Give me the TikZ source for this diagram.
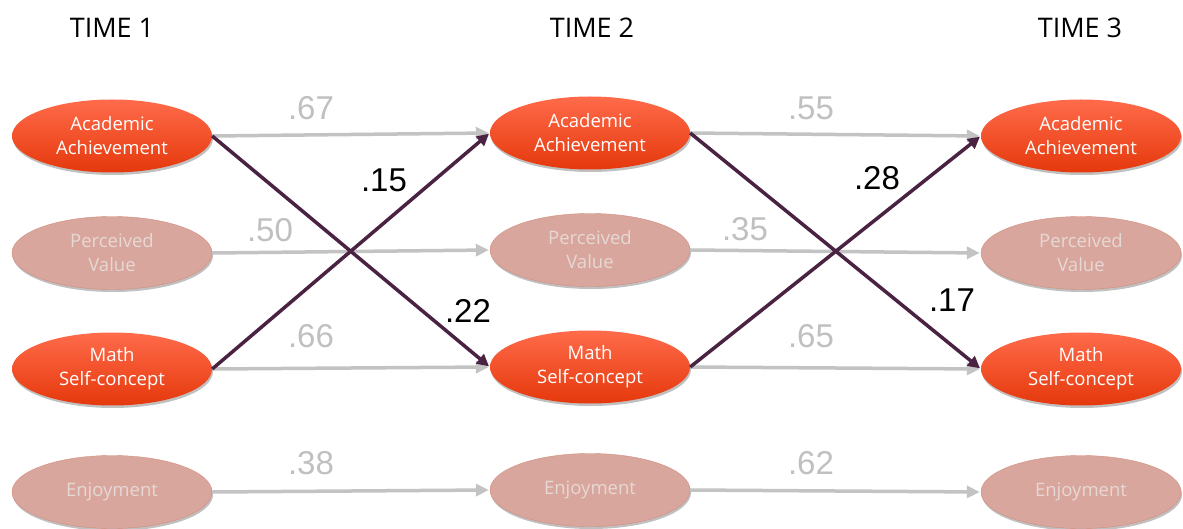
\documentclass[tikz,border=0pt]{standalone}
\usepackage{fontspec}
\setmainfont{Open Sans}
\newfontfamily\numfont{Liberation Sans}
\usetikzlibrary{shapes.geometric,shadows,arrows.meta}
\definecolor{hotTop}{HTML}{FF6B4A}
\definecolor{hotBot}{HTML}{E5380C}
\definecolor{fadeFill}{HTML}{D8A69C}
\definecolor{fadeDraw}{HTML}{D58B7C}
\definecolor{fadeText}{HTML}{E6D8D4}
\definecolor{grayLine}{HTML}{C3C3C3}
\definecolor{grayNum}{HTML}{C0C0C0}
\definecolor{purpleLine}{HTML}{4A2242}
\begin{document}
\begin{tikzpicture}[x=1pt,y=-1pt,
  latent/.style={ellipse,minimum width=200pt,minimum height=73pt,inner sep=0pt,
    align=center,font=\fontsize{18.5}{24}\selectfont,
    drop shadow={shadow xshift=1pt,shadow yshift=-2.5pt,opacity=0.35,fill=black!70}},
  hot/.style={latent,top color=hotTop,bottom color=hotBot,draw=none,text=white},
  faded/.style={latent,fill=fadeFill,draw=fadeDraw,line width=0.4pt,text=fadeText},
  grayarrow/.style={draw=grayLine,line width=3.5pt,-{Triangle[length=13pt,width=12pt]},shorten >=1pt},
  purplearrow/.style={draw=purpleLine,line width=3.5pt,-{Triangle[length=12pt,width=12pt]},shorten >=1pt},
  grayval/.style={font=\numfont\fontsize{33}{33}\selectfont,text=grayNum},
  blackval/.style={font=\numfont\fontsize{33}{33}\selectfont,text=black},
  title/.style={font=\fontsize{27}{27}\selectfont}]
\useasboundingbox (0,0) rectangle (1183,529);
\fill[white] (0,0) rectangle (1183,529);
% titles
\node[title] (t1) at (112,28) {TIME 1};
\node[title] (t2) at (592,28) {TIME 2};
\node[title] (t3) at (1080,28) {TIME 3};
% column 1
\node[hot] (a1) at (112,136) {Academic\\Achievement};
\node[faded] (p1) at (112,253) {Perceived\\Value};
\node[hot] (m1) at (112,369) {Math\\Self-concept};
\node[faded] (e1) at (112,492) {Enjoyment};
% column 2
\node[hot] (a2) at (590,133) {Academic\\Achievement};
\node[faded] (p2) at (590,250) {Perceived\\Value};
\node[hot] (m2) at (590,367) {Math\\Self-concept};
\node[faded] (e2) at (590,490) {Enjoyment};
% column 3
\node[hot] (a3) at (1081,136) {Academic\\Achievement};
\node[faded] (p3) at (1081,253) {Perceived\\Value};
\node[hot] (m3) at (1081,369) {Math\\Self-concept};
\node[faded] (e3) at (1081,492) {Enjoyment};
% gray stability paths
\draw[grayarrow] (a1.east) -- (a2.west);
\draw[grayarrow] (p1.east) -- (p2.west);
\draw[grayarrow] (m1.east) -- (m2.west);
\draw[grayarrow] (e1.east) -- (e2.west);
\draw[grayarrow] (a2.east) -- (a3.west);
\draw[grayarrow] (p2.east) -- (p3.west);
\draw[grayarrow] (m2.east) -- (m3.west);
\draw[grayarrow] (e2.east) -- (e3.west);
% purple cross paths
\draw[purplearrow] (a1.east) -- (m2.west);
\draw[purplearrow] (m1.east) -- (a2.west);
\draw[purplearrow] (a2.east) -- (m3.west);
\draw[purplearrow] (m2.east) -- (a3.west);
% values
\node[grayval] (v67) at (311,108) {.67};
\node[grayval] (v50) at (270,230) {.50};
\node[grayval] (v66) at (311,336) {.66};
\node[grayval] (v38) at (311,463) {.38};
\node[grayval] (v55) at (811,108) {.55};
\node[grayval] (v35) at (745,229) {.35};
\node[grayval] (v65) at (811,336) {.65};
\node[grayval] (v62) at (811,463) {.62};
\node[blackval] (v15) at (384,180) {.15};
\node[blackval] (v22) at (468,311) {.22};
\node[blackval] (v28) at (877,178) {.28};
\node[blackval] (v17) at (952,300) {.17};
\end{tikzpicture}
\end{document}
